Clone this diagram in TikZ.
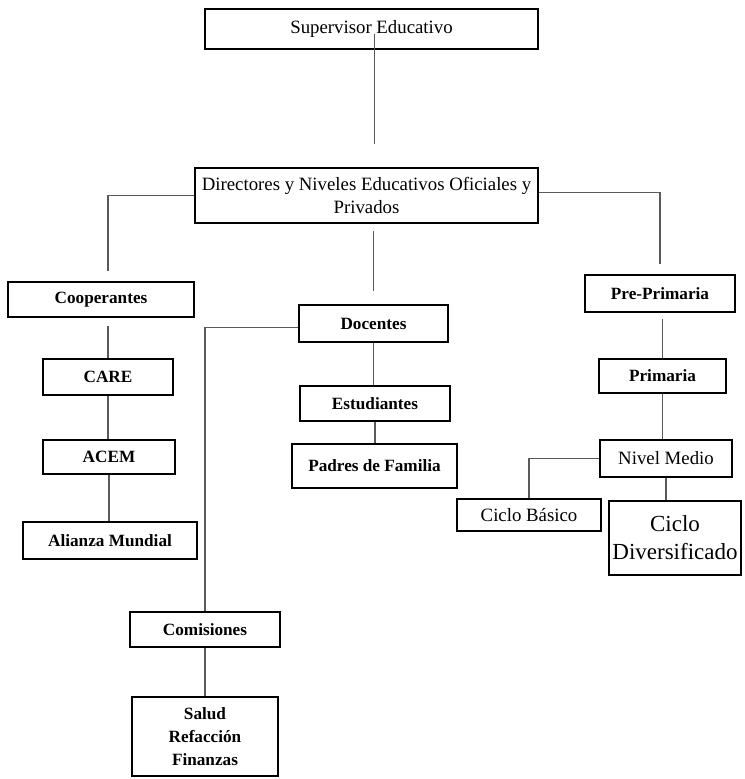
\documentclass[tikz,border=0pt]{standalone}
\usepackage{fontspec}
\setmainfont{Liberation Serif}
\begin{document}
\begin{tikzpicture}[x=0.5pt, y=-0.5pt,
    box/.style={draw, line width=1pt, inner sep=1pt, align=center, font=\fontsize{9.4}{11.5}\selectfont},
    boxb/.style={box, font=\fontsize{8.6}{11.5}\selectfont\bfseries},
    link/.style={draw=black!65, line width=0.6pt}]
\useasboundingbox (0,0) rectangle (744,779);
\node[box, minimum width=166.5pt, minimum height=20pt] (sup) at (371.5,29) {Supervisor Educativo};
\node[box, minimum width=171.5pt, minimum height=27.5pt] (dir) at (366.5,195.5) {Directores y Niveles Educativos Oficiales y\\ Privados};
\node[boxb, minimum width=93pt, minimum height=17.5pt] (coop) at (101,299.5) {Cooperantes};
\node[boxb, minimum width=65pt, minimum height=18pt] (care) at (108,377) {CARE};
\node[boxb, minimum width=66pt, minimum height=17pt] (acem) at (109,457) {ACEM};
\node[boxb, minimum width=87pt, minimum height=18.5pt] (ali) at (110,540.5) {Alianza Mundial};
\node[boxb, minimum width=74.5pt, minimum height=18.5pt] (doc) at (373.5,323.5) {Docentes};
\node[boxb, minimum width=75pt, minimum height=17.5pt] (est) at (375,403.5) {Estudiantes};
\node[boxb, minimum width=82.5pt, minimum height=22pt] (pad) at (374.5,466) {Padres de Familia};
\node[boxb, minimum width=75pt, minimum height=17.5pt] (com) at (205,629.5) {Comisiones};
\node[boxb, minimum width=73pt, minimum height=39.5pt] (sal) at (205,736.5) {Salud\\ Refacción\\ Finanzas};
\node[boxb, minimum width=75pt, minimum height=18.5pt] (pre) at (660,293.5) {Pre-Primaria};
\node[boxb, minimum width=63.5pt, minimum height=17pt] (pri) at (662.5,376) {Primaria};
\node[box, minimum width=66pt, minimum height=18.5pt] (niv) at (666,458.5) {Nivel Medio};
\node[box, minimum width=72pt, minimum height=16pt] (bas) at (529,515) {Ciclo Básico};
\node[box, minimum width=66pt, minimum height=37pt, font=\fontsize{11.5}{14}\selectfont] (div) at (675,538) {Ciclo\\ Diversificado};
\draw[link, shorten <=-8pt, shorten >=11.5pt] ([xshift=1.5pt]sup.south) -- ([xshift=1.5pt]sup.south |- dir.north);
\draw[link, shorten >=5pt] (dir.west) -| ([xshift=3.5pt]coop.north);
\draw[link, shorten >=5pt] ([yshift=1.5pt]dir.east) -| (pre.north);
\draw[link, shorten <=3.5pt, shorten >=6.5pt] (doc.north |- dir.south) -- (doc.north);
\draw[link] ([yshift=-2pt]doc.west) -| (com.north);
\draw[link] (doc.south) -- (doc.south |- est.north);
\draw[link] (est.south) -- (est.south |- pad.north);
\draw[link, shorten <=4pt] (care.north |- coop.south) -- (care.north);
\draw[link] (care.south) -- (care.south |- acem.north);
\draw[link] (acem.south) -- (acem.south |- ali.north);
\draw[link] (com.south) -- (sal.north);
\draw[link, shorten <=3pt] (pri.north |- pre.south) -- (pri.north);
\draw[link] (pri.south) -- (pri.south |- niv.north);
\draw[link] (niv.west) -| (bas.north);
\draw[link] (niv.south) -- (niv.south |- div.north);
\end{tikzpicture}
\end{document}
